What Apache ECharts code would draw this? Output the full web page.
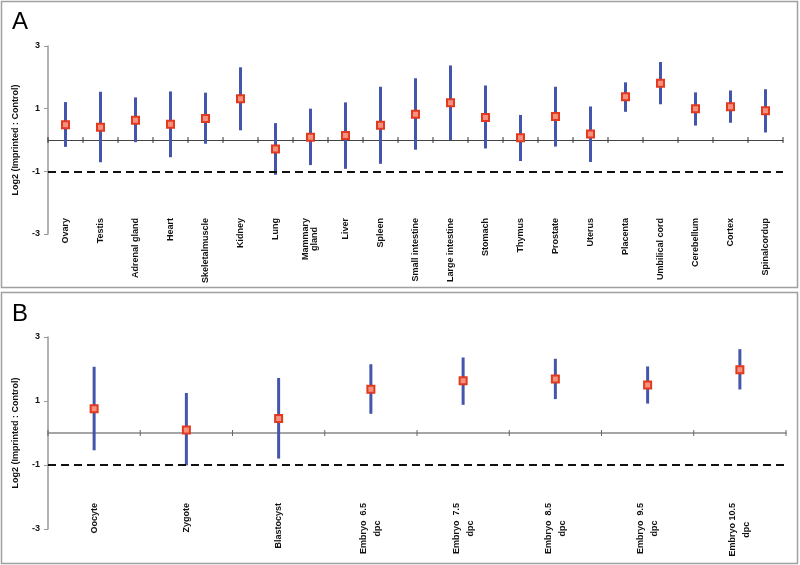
<!DOCTYPE html>
<html>
<head>
<meta charset="utf-8">
<script src="https://cdn.jsdelivr.net/npm/echarts@6/dist/echarts.min.js"></script>
<style>
html,body{margin:0;padding:0;background:#fff;}
#c{width:800px;height:565px;}
</style>
</head>
<body>
<div id="c"></div>
<script>
// Panel A: tissues
var catsA = ['Ovary','Testis','Adrenal gland','Heart','Skeletalmuscle','Kidney','Lung','Mammary\ngland','Liver','Spleen','Small intestine','Large intestine','Stomach','Thymus','Prostate','Uterus','Placenta','Umbilical cord','Cerebellum','Cortex','Spinalcordup'];
var meanA = [0.49,0.41,0.63,0.50,0.69,1.32,-0.29,0.09,0.14,0.47,0.82,1.19,0.72,0.07,0.75,0.19,1.38,1.81,1.00,1.06,0.93];
var highA = [1.21,1.54,1.36,1.55,1.51,2.32,0.54,1.00,1.20,1.70,1.97,2.38,1.74,0.80,1.70,1.07,1.84,2.49,1.52,1.58,1.62];
var lowA  = [-0.22,-0.71,-0.07,-0.55,-0.12,0.31,-1.11,-0.80,-0.92,-0.76,-0.31,0.00,-0.27,-0.67,-0.21,-0.70,0.90,1.14,0.46,0.55,0.24];

// Panel B: developmental stages
var catsB = ['Oocyte','Zygote','Blastocyst','Embryo  6.5\ndpc','Embryo  7.5\ndpc','Embryo  8.5\ndpc','Embryo  9.5\ndpc','Embryo 10.5\ndpc'];
var meanB = [0.76,0.09,0.45,1.37,1.63,1.69,1.50,1.98];
var highB = [2.07,1.25,1.72,2.15,2.36,2.32,2.08,2.62];
var lowB  = [-0.54,-1.01,-0.80,0.60,0.88,1.06,0.92,1.36];

var yTicks = [-3, -1, 1, 3];
var threshold = -1;
var yName = 'Log2 (Imprinted : Control)';

var FONT = 'Liberation Sans, Arial, sans-serif';
var BLUE = '#4456ab';
var RED = '#e2391f';

function richLabel(v){
  return v.split('\n').map(function(s){ return '{a|' + s + '}'; }).join('\n');
}

function buildAxes(gi, cats, lineColor, lineWidth, margin, lh){
  var x1 = {
    type: 'category', gridIndex: gi, data: cats, position: 'bottom',
    axisLine: {onZero: true, lineStyle: {color: lineColor, width: lineWidth}},
    axisTick: {show: false},
    axisLabel: {
      interval: 0, rotate: 90, margin: margin,
      formatter: richLabel,
      rich: {a: {fontFamily: FONT, fontWeight: 'bold', fontSize: 9, color: '#111', align: 'center', lineHeight: lh}}
    },
    splitLine: {show: false}
  };
  var y = {
    type: 'value', gridIndex: gi, min: yTicks[0], max: yTicks[yTicks.length-1], interval: 2,
    name: yName, nameLocation: 'middle', nameGap: 28, nameRotate: 90,
    nameTextStyle: {fontFamily: FONT, fontWeight: 'bold', fontSize: 9, color: '#111'},
    axisLine: {show: true, lineStyle: {color: '#999', width: 1.5}},
    axisTick: {show: true, length: 4, lineStyle: {color: '#999'}},
    axisLabel: {fontFamily: FONT, fontWeight: 'bold', fontSize: 9, color: '#111', margin: 8},
    splitLine: {show: false}
  };
  return {x: x1, y: y};
}

function buildSeries(ai, mean, low, high, tickColor){
  var errData = mean.map(function(m, i){ return [i, low[i], high[i]]; });
  var n = mean.length;
  var tickData = [];
  for (var k = 0; k <= n; k++) tickData.push([k]);
  return [
    {
      // category boundary ticks crossing the zero line
      type: 'custom', xAxisIndex: ai, yAxisIndex: ai, silent: true, z: 2,
      data: tickData,
      renderItem: function(params, api){
        var k = api.value(0);
        var idx = Math.min(k, n - 1);
        var c = api.coord([idx, 0]);
        var bw = api.size([1, 0])[0];
        var x = k < n ? c[0] - bw / 2 : c[0] + bw / 2;
        return {type: 'line', shape: {x1: x, y1: c[1] - 3, x2: x, y2: c[1] + 3},
          style: {stroke: tickColor, lineWidth: 1}};
      },
      encode: {x: 0}
    },
    {
      type: 'custom', xAxisIndex: ai, yAxisIndex: ai, silent: true, z: 3,
      data: errData,
      renderItem: function(params, api){
        var p1 = api.coord([api.value(0), api.value(1)]);
        var p2 = api.coord([api.value(0), api.value(2)]);
        return {type: 'line', shape: {x1: p1[0], y1: p1[1], x2: p2[0], y2: p2[1]},
          style: {stroke: BLUE, lineWidth: 3}};
      },
      encode: {x: 0, y: [1, 2]}
    },
    {
      type: 'scatter', xAxisIndex: ai, yAxisIndex: ai, z: 4, silent: true,
      symbol: 'rect', symbolSize: 7,
      itemStyle: {color: '#f3937f', borderColor: RED, borderWidth: 2, opacity: 1},
      data: mean,
      markLine: {
        silent: true, symbol: 'none', label: {show: false},
        lineStyle: {color: '#111', width: 2, type: [8, 5]},
        data: [{yAxis: threshold}]
      }
    }
  ];
}

var axA = buildAxes(0, catsA, '#444', 1, -16, 9);
var axB = buildAxes(1, catsB, '#888', 1.5, -26, 14);

var chart = echarts.init(document.getElementById('c'), null, {renderer: 'canvas'});
chart.setOption({
  animation: false,
  backgroundColor: '#fff',
  grid: [
    {left: 48, right: 17, top: 46, height: 188, containLabel: false, outerBoundsMode: 'none'},
    {left: 48, right: 14, top: 337, height: 192, containLabel: false, outerBoundsMode: 'none'}
  ],
  xAxis: [axA.x, axB.x],
  yAxis: [axA.y, axB.y],
  series: buildSeries(0, meanA, lowA, highA, '#333').concat(buildSeries(1, meanB, lowB, highB, '#666')),
  graphic: [
    {type: 'rect', shape: {x: 1.5, y: 1.5, width: 796, height: 286}, style: {fill: null, stroke: '#a0a0a0', lineWidth: 1.5}, silent: true},
    {type: 'rect', shape: {x: 1.5, y: 292.5, width: 796, height: 271}, style: {fill: null, stroke: '#a0a0a0', lineWidth: 1.5}, silent: true},
    {type: 'text', left: 12, top: 10, style: {text: 'A', font: '24px Liberation Sans, Arial, sans-serif', fill: '#000'}},
    {type: 'text', left: 12, top: 302, style: {text: 'B', font: '24px Liberation Sans, Arial, sans-serif', fill: '#000'}}
  ]
});
</script>
</body>
</html>
